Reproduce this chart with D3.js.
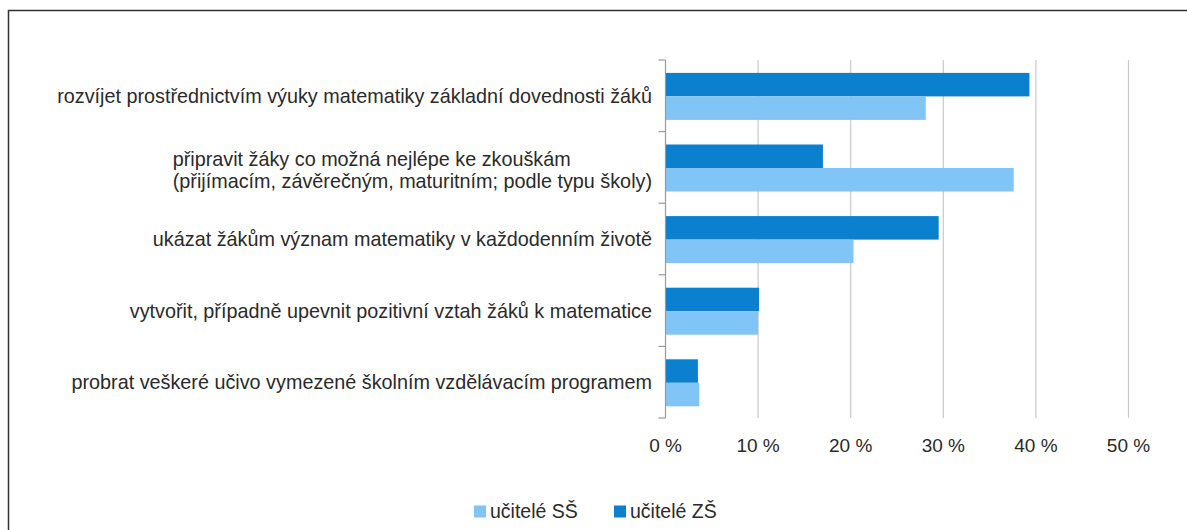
<!DOCTYPE html>
<html>
<head>
<meta charset="utf-8">
<script src="https://cdn.jsdelivr.net/npm/d3@7"></script>
<style>
  html, body { margin: 0; padding: 0; background: #fff; }
  svg { display: block; font-family: "Liberation Sans", Arial, sans-serif; }
</style>
</head>
<body>
<svg id="chart" width="1187" height="530"></svg>
<script>
const categories = [
  ["rozvíjet prostřednictvím výuky matematiky základní dovednosti žáků"],
  ["připravit žáky co možná nejlépe ke zkouškám", "(přijímacím, závěrečným, maturitním; podle typu školy)"],
  ["ukázat žákům význam matematiky v každodenním životě"],
  ["vytvořit, případně upevnit pozitivní vztah žáků k matematice"],
  ["probrat veškeré učivo vymezené školním vzdělávacím programem"]
];
const seriesNames = ["učitelé ZŠ", "učitelé SŠ"];
const valuesZS = [39.3, 17.0, 29.5, 10.1, 3.5];
const valuesSS = [28.1, 37.6, 20.3, 10.0, 3.65];
const xTicks = [0, 10, 20, 30, 40, 50];
const legendOrder = ["učitelé SŠ", "učitelé ZŠ"];

const colors = { "učitelé ZŠ": "#0A80CF", "učitelé SŠ": "#80C5F6" };
const textColor = "#2a2a2a";

const svg = d3.select("#chart");

// outer frame
svg.append("rect").attr("x", 8.5).attr("y", 10.5).attr("width", 1200).attr("height", 600)
  .attr("fill", "none").attr("stroke", "#333").attr("stroke-width", 1.5);

const x = d3.scaleLinear().domain([0, 50]).range([665.5, 1128.5]);
const keys = categories.map((c, i) => i);
const y = d3.scaleBand().domain(keys).range([60, 418]);
const inner = d3.scaleBand().domain(seriesNames).range([0, 47]);
const groupOffset = (y.bandwidth() - 47) / 2 + 0.6;

// gridlines
svg.append("g").selectAll("line").data(xTicks.filter(t => t > 0)).join("line")
  .attr("x1", d => x(d)).attr("x2", d => x(d))
  .attr("y1", 60).attr("y2", 418)
  .attr("stroke", "#c9c9c9").attr("stroke-width", 1.2);

// bars
const data = [];
keys.forEach(i => {
  data.push({ cat: i, s: "učitelé ZŠ", v: valuesZS[i] });
  data.push({ cat: i, s: "učitelé SŠ", v: valuesSS[i] });
});
svg.append("g").selectAll("rect").data(data).join("rect")
  .attr("x", x(0))
  .attr("y", d => y(d.cat) + groupOffset + inner(d.s))
  .attr("width", d => x(d.v) - x(0))
  .attr("height", inner.bandwidth())
  .attr("fill", d => colors[d.s]);

// y axis line with ticks at band boundaries
const yAxis = svg.append("g");
yAxis.append("line").attr("x1", x(0)).attr("x2", x(0)).attr("y1", 60).attr("y2", 418)
  .attr("stroke", "#9a9a9a").attr("stroke-width", 1.2);
const bounds = keys.map(k => y(k)).concat([418]);
yAxis.selectAll("line.tk").data(bounds).join("line").attr("class", "tk")
  .attr("x1", x(0) - 7).attr("x2", x(0)).attr("y1", d => d).attr("y2", d => d)
  .attr("stroke", "#9a9a9a").attr("stroke-width", 1.2);

// category labels
const labelRight = 652;
const fs = 19.8;
const lab = svg.append("g").attr("font-size", fs).attr("fill", textColor);
categories.forEach((lines, i) => {
  const cy = y(i) + y.bandwidth() / 2;
  if (lines.length === 1) {
    lab.append("text").attr("x", labelRight).attr("y", cy).attr("dy", "0.35em")
      .attr("text-anchor", "end").text(lines[0]);
  } else {
    const t = lab.append("text").attr("text-anchor", "start");
    const lh = 22;
    lines.forEach((ln, j) => {
      t.append("tspan").attr("y", cy + (j - (lines.length - 1) / 2) * lh + 3).attr("dy", "0.35em").text(ln);
    });
    let maxW = 0;
    t.selectAll("tspan").each(function () { maxW = Math.max(maxW, this.getComputedTextLength()); });
    t.selectAll("tspan").attr("x", labelRight - maxW);
  }
});

// x tick labels
svg.append("g").attr("font-size", 19).attr("fill", textColor).selectAll("text").data(xTicks).join("text")
  .attr("x", d => x(d)).attr("y", 445).attr("dy", "0.35em").attr("text-anchor", "middle")
  .text(d => d + " %");

// legend
const legendPos = { "učitelé SŠ": 474, "učitelé ZŠ": 614 };
const lg = svg.append("g").attr("font-size", 19.5).attr("fill", textColor);
legendOrder.forEach(name => {
  lg.append("rect").attr("x", legendPos[name]).attr("y", 505.5).attr("width", 12).attr("height", 12)
    .attr("fill", colors[name]);
  lg.append("text").attr("x", legendPos[name] + 16).attr("y", 511.5).attr("dy", "0.35em").text(name);
});
</script>
</body>
</html>
